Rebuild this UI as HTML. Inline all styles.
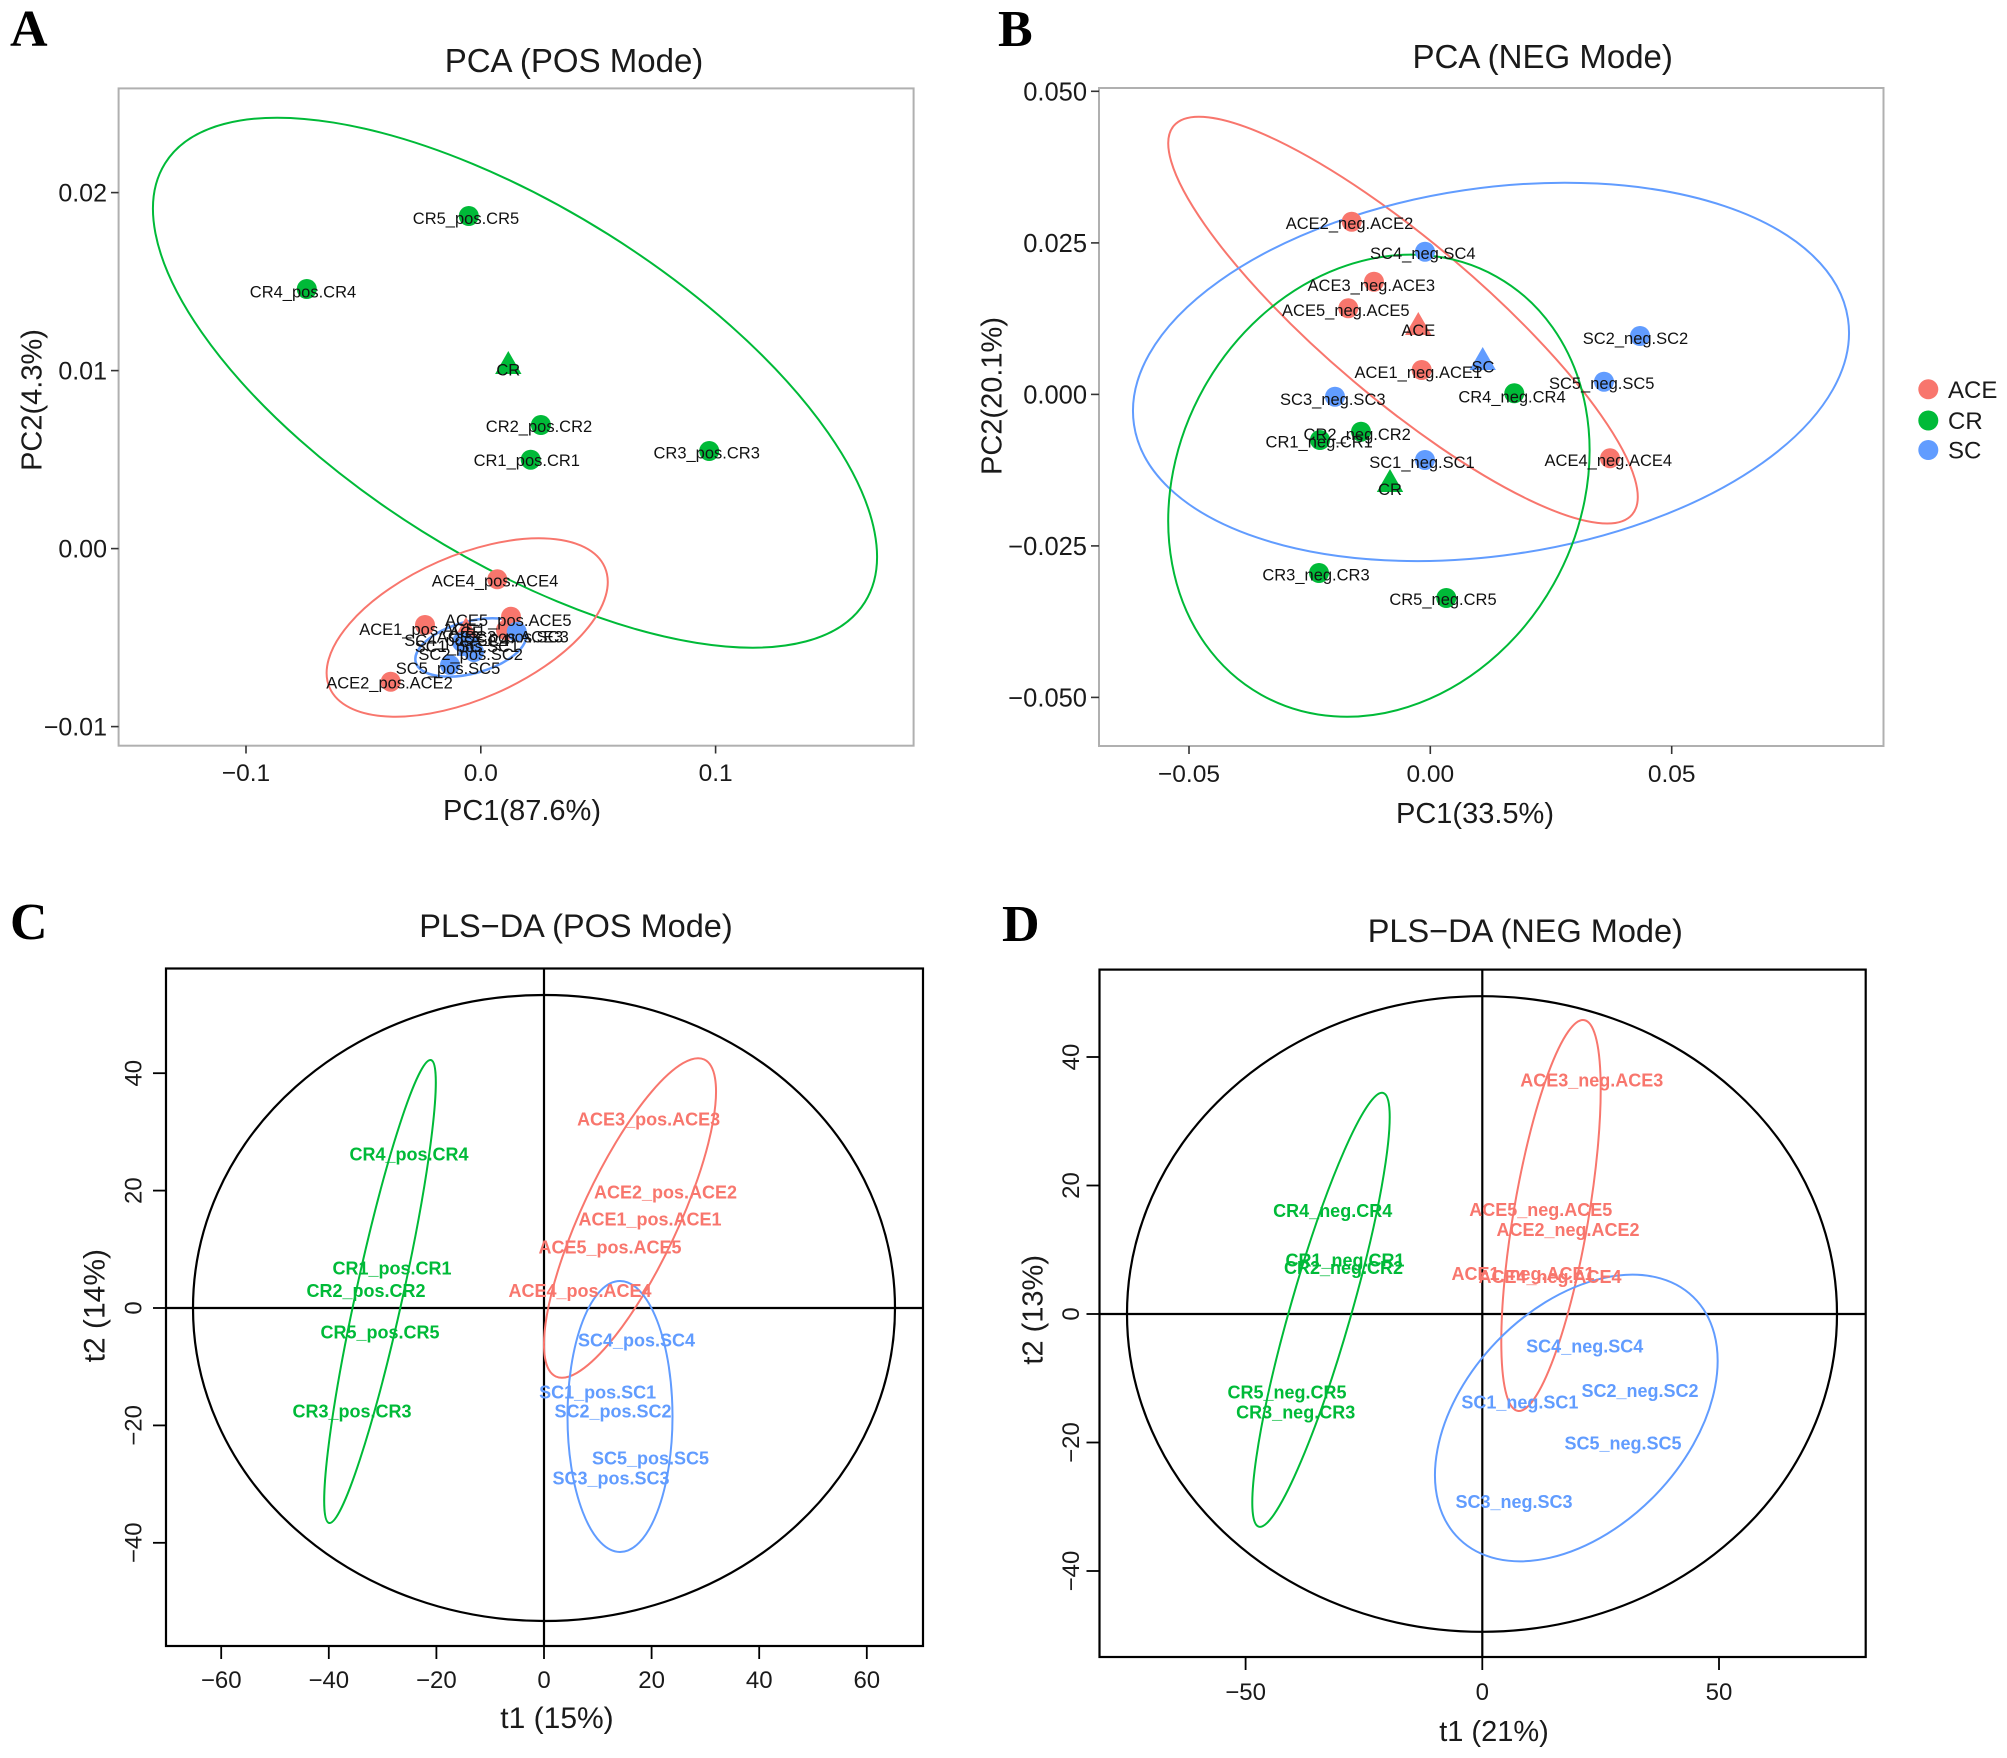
<!DOCTYPE html>
<html>
<head>
<meta charset="utf-8">
<style>
  html, body { margin: 0; padding: 0; background: #ffffff; }
  svg { display: block; }
  .sans { font-family: "Liberation Sans", Arial, sans-serif; }
  .serif { font-family: "Liberation Serif", "Times New Roman", serif; }
</style>
</head>
<body>
<svg width="2007" height="1758" viewBox="0 0 2007 1758" xmlns="http://www.w3.org/2000/svg" class="sans">
  <rect x="0" y="0" width="2007" height="1758" fill="#ffffff"/>

  <!-- Panel letters -->
  <g class="serif" font-weight="bold" font-size="52" fill="#000">
    <text x="10" y="46">A</text>
    <text x="998" y="46">B</text>
    <text x="10" y="939">C</text>
    <text x="1002" y="941">D</text>
  </g>

  <!-- ================= PANEL A ================= -->
  <text x="574" y="72" font-size="33" text-anchor="middle" fill="#1a1a1a">PCA (POS Mode)</text>
  <rect x="118.6" y="88.4" width="795" height="657.3" fill="none" stroke="#b0b0b0" stroke-width="2"/>
  <g stroke="#333" stroke-width="1.6">
    <line x1="111" y1="192.6" x2="118.6" y2="192.6"/>
    <line x1="111" y1="370.6" x2="118.6" y2="370.6"/>
    <line x1="111" y1="548.6" x2="118.6" y2="548.6"/>
    <line x1="111" y1="726.6" x2="118.6" y2="726.6"/>
    <line x1="246" y1="745.7" x2="246" y2="753.5"/>
    <line x1="480.8" y1="745.7" x2="480.8" y2="753.5"/>
    <line x1="715.6" y1="745.7" x2="715.6" y2="753.5"/>
  </g>
  <g font-size="25" fill="#1a1a1a" text-anchor="end">
    <text x="107" y="201.6">0.02</text>
    <text x="107" y="379.6">0.01</text>
    <text x="107" y="557.6">0.00</text>
    <text x="107" y="735.6">−0.01</text>
  </g>
  <g font-size="24.5" fill="#1a1a1a" text-anchor="middle">
    <text x="246" y="781">−0.1</text>
    <text x="480.8" y="781">0.0</text>
    <text x="715.6" y="781">0.1</text>
  </g>
  <text x="522" y="820" font-size="29" text-anchor="middle" fill="#1a1a1a">PC1(87.6%)</text>
  <text transform="translate(41.4,400) rotate(-90)" font-size="29" text-anchor="middle" fill="#1a1a1a">PC2(4.3%)</text>

  <g fill="none" stroke-width="2">
    <ellipse cx="0" cy="0" rx="413" ry="175.2" stroke="#00BA38" transform="translate(515,382.7) rotate(32.1)"/>
    <ellipse cx="0" cy="0" rx="150.2" ry="71.8" stroke="#F8766D" transform="translate(467.2,627.5) rotate(-23.65)"/>
    <ellipse cx="0" cy="0" rx="57" ry="26" stroke="#619CFF" stroke-width="2.5" transform="translate(470.8,647.5) rotate(-15)"/>
  </g>
  <g fill="#00BA38">
    <circle cx="468.8" cy="216" r="10"/>
    <circle cx="306.8" cy="289" r="10"/>
    <circle cx="540.9" cy="425" r="10"/>
    <circle cx="530.7" cy="459.7" r="10"/>
    <circle cx="709.2" cy="451" r="10"/>
    <polygon points="508.3,351 521.5,374 495.1,374"/>
  </g>
  <g fill="#F8766D">
    <circle cx="497.3" cy="579.3" r="10"/>
    <circle cx="511" cy="616.7" r="10"/>
    <circle cx="425" cy="625" r="10"/>
    <circle cx="390.7" cy="681.7" r="10"/>
    <circle cx="506" cy="630" r="10"/>
    <polygon points="466,617 479,640 453,640"/>
  </g>
  <g fill="#619CFF">
    <circle cx="516.7" cy="631.7" r="10"/>
    <circle cx="450" cy="665" r="10"/>
    <circle cx="462" cy="642" r="10"/>
    <circle cx="470" cy="646" r="10"/>
    <circle cx="474" cy="652" r="10"/>
    <polygon points="470,633 483,656 457,656"/>
  </g>
  <g font-size="16.5" fill="#111" text-anchor="middle">
    <text x="466" y="223.8">CR5_pos.CR5</text>
    <text x="303" y="297.5">CR4_pos.CR4</text>
    <text x="508.3" y="375.5">CR</text>
    <text x="539" y="431.8">CR2_pos.CR2</text>
    <text x="526.8" y="466">CR1_pos.CR1</text>
    <text x="706.7" y="458.4">CR3_pos.CR3</text>
    <text x="495" y="586.3">ACE4_pos.ACE4</text>
    <text x="508.3" y="625.8">ACE5_pos.ACE5</text>
    <text x="422.5" y="634.8">ACE1_pos.ACE1</text>
    <text x="466" y="637.8">ACE</text>
    <text x="500" y="642.5">ACE3_pos.ACE3</text>
    <text x="516.5" y="642.5">SC3_pos.SC3</text>
    <text x="456.5" y="645.8">SC4_pos.SC4</text>
    <text x="467" y="651.8">SC1_pos.SC1</text>
    <text x="470" y="651.8">SC</text>
    <text x="470.7" y="660.1">SC2_pos.SC2</text>
    <text x="448" y="674.1">SC5_pos.SC5</text>
    <text x="389.5" y="688.5">ACE2_pos.ACE2</text>
  </g>

  <!-- ================= PANEL B ================= -->
  <text x="1542.7" y="68" font-size="33" text-anchor="middle" fill="#1a1a1a">PCA (NEG Mode)</text>
  <rect x="1099" y="88" width="784.5" height="658" fill="none" stroke="#b0b0b0" stroke-width="2"/>
  <g stroke="#333" stroke-width="1.6">
    <line x1="1091" y1="91.3" x2="1099" y2="91.3"/>
    <line x1="1091" y1="242.9" x2="1099" y2="242.9"/>
    <line x1="1091" y1="394.4" x2="1099" y2="394.4"/>
    <line x1="1091" y1="545.9" x2="1099" y2="545.9"/>
    <line x1="1091" y1="697.4" x2="1099" y2="697.4"/>
    <line x1="1189" y1="746" x2="1189" y2="754"/>
    <line x1="1430.3" y1="746" x2="1430.3" y2="754"/>
    <line x1="1671.7" y1="746" x2="1671.7" y2="754"/>
  </g>
  <g font-size="25.5" fill="#1a1a1a" text-anchor="end">
    <text x="1087" y="100.3">0.050</text>
    <text x="1087" y="251.9">0.025</text>
    <text x="1087" y="403.4">0.000</text>
    <text x="1087" y="554.9">−0.025</text>
    <text x="1087" y="706.4">−0.050</text>
  </g>
  <g font-size="24.5" fill="#1a1a1a" text-anchor="middle">
    <text x="1189" y="782">−0.05</text>
    <text x="1430.3" y="782">0.00</text>
    <text x="1671.7" y="782">0.05</text>
  </g>
  <text x="1475" y="823" font-size="29" text-anchor="middle" fill="#1a1a1a">PC1(33.5%)</text>
  <text transform="translate(1001.4,396) rotate(-90)" font-size="29" text-anchor="middle" fill="#1a1a1a">PC2(20.1%)</text>

  <g fill="none" stroke-width="2">
    <ellipse cx="0" cy="0" rx="300.5" ry="78.6" stroke="#F8766D" transform="translate(1403,320.1) rotate(40.3)"/>
    <ellipse cx="0" cy="0" rx="360.9" ry="183.6" stroke="#619CFF" transform="translate(1491,371.9) rotate(-8.43)"/>
    <ellipse cx="0" cy="0" rx="239.9" ry="200.5" stroke="#00BA38" transform="translate(1378.9,485.7) rotate(-60.6)"/>
  </g>
  <g fill="#F8766D">
    <circle cx="1351.7" cy="221.7" r="10"/>
    <circle cx="1374" cy="281.7" r="10"/>
    <circle cx="1348.3" cy="308.3" r="10"/>
    <circle cx="1421.7" cy="370" r="10"/>
    <circle cx="1610" cy="458.3" r="10"/>
    <polygon points="1418.3,312 1431.5,335 1405.1,335"/>
  </g>
  <g fill="#619CFF">
    <circle cx="1425" cy="251.7" r="10"/>
    <circle cx="1640" cy="336" r="10"/>
    <circle cx="1604" cy="381.7" r="10"/>
    <circle cx="1335" cy="396.7" r="10"/>
    <circle cx="1425" cy="460" r="10"/>
    <polygon points="1482.7,347 1495.9,370 1469.5,370"/>
  </g>
  <g fill="#00BA38">
    <circle cx="1514.3" cy="393.3" r="10"/>
    <circle cx="1361" cy="431.7" r="10"/>
    <circle cx="1320" cy="440" r="10"/>
    <circle cx="1319" cy="573" r="10"/>
    <circle cx="1446.3" cy="598" r="10"/>
    <polygon points="1390,469 1403.2,492 1376.8,492"/>
  </g>
  <g font-size="16.5" fill="#111" text-anchor="middle">
    <text x="1349.5" y="229.1">ACE2_neg.ACE2</text>
    <text x="1422.8" y="259.1">SC4_neg.SC4</text>
    <text x="1371.3" y="290.8">ACE3_neg.ACE3</text>
    <text x="1345.8" y="315.8">ACE5_neg.ACE5</text>
    <text x="1418.3" y="335.8">ACE</text>
    <text x="1635.5" y="344.1">SC2_neg.SC2</text>
    <text x="1483" y="372.5">SC</text>
    <text x="1418.3" y="378.1">ACE1_neg.ACE1</text>
    <text x="1601.7" y="389.1">SC5_neg.SC5</text>
    <text x="1512" y="402.5">CR4_neg.CR4</text>
    <text x="1332.8" y="404.8">SC3_neg.SC3</text>
    <text x="1357.2" y="440.1">CR2_neg.CR2</text>
    <text x="1319.2" y="447.5">CR1_neg.CR1</text>
    <text x="1608.3" y="465.8">ACE4_neg.ACE4</text>
    <text x="1422" y="468.1">SC1_neg.SC1</text>
    <text x="1390" y="495.1">CR</text>
    <text x="1316" y="580.4">CR3_neg.CR3</text>
    <text x="1443" y="604.8">CR5_neg.CR5</text>
  </g>
  <circle cx="1928.3" cy="389.3" r="10" fill="#F8766D"/>
  <circle cx="1928.3" cy="420.5" r="10" fill="#00BA38"/>
  <circle cx="1928.3" cy="450" r="10" fill="#619CFF"/>
  <g font-size="24" fill="#1a1a1a">
    <text x="1948" y="397.9">ACE</text>
    <text x="1948" y="429.1">CR</text>
    <text x="1948" y="458.6">SC</text>
  </g>

  <!-- ================= PANEL C ================= -->
  <text x="576" y="937" font-size="32.5" text-anchor="middle" fill="#1a1a1a">PLS−DA (POS Mode)</text>
  <rect x="166" y="968.5" width="757" height="677.5" fill="none" stroke="#000" stroke-width="2.2"/>
  <line x1="544" y1="968.5" x2="544" y2="1646" stroke="#000" stroke-width="2.2"/>
  <line x1="166" y1="1308" x2="923" y2="1308" stroke="#000" stroke-width="2.2"/>
  <ellipse cx="544" cy="1308" rx="351" ry="313" fill="none" stroke="#000" stroke-width="2.2"/>
  <g stroke="#000" stroke-width="1.8">
    <line x1="221.2" y1="1646" x2="221.2" y2="1659"/>
    <line x1="328.8" y1="1646" x2="328.8" y2="1659"/>
    <line x1="436.4" y1="1646" x2="436.4" y2="1659"/>
    <line x1="544" y1="1646" x2="544" y2="1659"/>
    <line x1="651.6" y1="1646" x2="651.6" y2="1659"/>
    <line x1="759.2" y1="1646" x2="759.2" y2="1659"/>
    <line x1="866.8" y1="1646" x2="866.8" y2="1659"/>
    <line x1="153" y1="1073.2" x2="166" y2="1073.2"/>
    <line x1="153" y1="1190.6" x2="166" y2="1190.6"/>
    <line x1="153" y1="1308" x2="166" y2="1308"/>
    <line x1="153" y1="1425.4" x2="166" y2="1425.4"/>
    <line x1="153" y1="1542.8" x2="166" y2="1542.8"/>
  </g>
  <g font-size="24" fill="#1a1a1a" text-anchor="middle">
    <text x="221.2" y="1688">−60</text>
    <text x="328.8" y="1688">−40</text>
    <text x="436.4" y="1688">−20</text>
    <text x="544" y="1688">0</text>
    <text x="651.6" y="1688">20</text>
    <text x="759.2" y="1688">40</text>
    <text x="866.8" y="1688">60</text>
    <text transform="translate(141.6,1073.2) rotate(-90)">40</text>
    <text transform="translate(141.6,1190.6) rotate(-90)">20</text>
    <text transform="translate(141.6,1308) rotate(-90)">0</text>
    <text transform="translate(141.6,1425.4) rotate(-90)">−20</text>
    <text transform="translate(141.6,1542.8) rotate(-90)">−40</text>
  </g>
  <text x="557" y="1728" font-size="30" text-anchor="middle" fill="#1a1a1a">t1 (15%)</text>
  <text transform="translate(104.7,1305.7) rotate(-90)" font-size="30" text-anchor="middle" fill="#1a1a1a">t2 (14%)</text>
  <g fill="none" stroke-width="2">
    <ellipse cx="0" cy="0" rx="237" ry="23.4" stroke="#00BA38" transform="translate(380,1291.5) rotate(-77.6)"/>
    <ellipse cx="0" cy="0" rx="175" ry="48" stroke="#F8766D" transform="translate(630,1218) rotate(-64.9)"/>
    <ellipse cx="620" cy="1416.5" rx="52.5" ry="135.5" stroke="#619CFF"/>
  </g>
  <g font-size="18" font-weight="bold" text-anchor="middle">
    <g fill="#00BA38">
      <text x="409" y="1160.5">CR4_pos.CR4</text>
      <text x="392" y="1274.5">CR1_pos.CR1</text>
      <text x="366" y="1297">CR2_pos.CR2</text>
      <text x="380" y="1338.5">CR5_pos.CR5</text>
      <text x="352" y="1417.5">CR3_pos.CR3</text>
    </g>
    <g fill="#F8766D">
      <text x="648.6" y="1125.5">ACE3_pos.ACE3</text>
      <text x="665.5" y="1198.5">ACE2_pos.ACE2</text>
      <text x="650" y="1225.5">ACE1_pos.ACE1</text>
      <text x="610" y="1253.5">ACE5_pos.ACE5</text>
      <text x="580" y="1297">ACE4_pos.ACE4</text>
    </g>
    <g fill="#619CFF">
      <text x="636.5" y="1346.5">SC4_pos.SC4</text>
      <text x="597.6" y="1398.5">SC1_pos.SC1</text>
      <text x="613" y="1417.5">SC2_pos.SC2</text>
      <text x="650.5" y="1464.5">SC5_pos.SC5</text>
      <text x="611" y="1484.5">SC3_pos.SC3</text>
    </g>
  </g>

  <!-- ================= PANEL D ================= -->
  <text x="1525.3" y="942" font-size="32.5" text-anchor="middle" fill="#1a1a1a">PLS−DA (NEG Mode)</text>
  <rect x="1099.5" y="969.6" width="766.2" height="687.4" fill="none" stroke="#000" stroke-width="2.2"/>
  <line x1="1482.3" y1="969.6" x2="1482.3" y2="1657" stroke="#000" stroke-width="2.2"/>
  <line x1="1099.5" y1="1314" x2="1865.7" y2="1314" stroke="#000" stroke-width="2.2"/>
  <ellipse cx="1482" cy="1314" rx="355" ry="317.8" fill="none" stroke="#000" stroke-width="2.2"/>
  <g stroke="#000" stroke-width="1.8">
    <line x1="1245.6" y1="1657" x2="1245.6" y2="1670"/>
    <line x1="1482.3" y1="1657" x2="1482.3" y2="1670"/>
    <line x1="1719" y1="1657" x2="1719" y2="1670"/>
    <line x1="1086.5" y1="1057" x2="1099.5" y2="1057"/>
    <line x1="1086.5" y1="1185.5" x2="1099.5" y2="1185.5"/>
    <line x1="1086.5" y1="1314" x2="1099.5" y2="1314"/>
    <line x1="1086.5" y1="1442.5" x2="1099.5" y2="1442.5"/>
    <line x1="1086.5" y1="1571" x2="1099.5" y2="1571"/>
  </g>
  <g font-size="24" fill="#1a1a1a" text-anchor="middle">
    <text x="1245.6" y="1700">−50</text>
    <text x="1482.3" y="1700">0</text>
    <text x="1719" y="1700">50</text>
    <text transform="translate(1079.2,1057) rotate(-90)">40</text>
    <text transform="translate(1079.2,1185.5) rotate(-90)">20</text>
    <text transform="translate(1079.2,1314) rotate(-90)">0</text>
    <text transform="translate(1079.2,1442.5) rotate(-90)">−20</text>
    <text transform="translate(1079.2,1571) rotate(-90)">−40</text>
  </g>
  <text x="1494" y="1741" font-size="29" text-anchor="middle" fill="#1a1a1a">t1 (21%)</text>
  <text transform="translate(1042.5,1309.8) rotate(-90)" font-size="29" text-anchor="middle" fill="#1a1a1a">t2 (13%)</text>
  <g fill="none" stroke-width="2">
    <ellipse cx="0" cy="0" rx="225.6" ry="30.4" stroke="#00BA38" transform="translate(1321,1309.8) rotate(-74)"/>
    <ellipse cx="0" cy="0" rx="198.2" ry="37.5" stroke="#F8766D" transform="translate(1551,1215.5) rotate(-80.35)"/>
    <ellipse cx="0" cy="0" rx="168.3" ry="110.4" stroke="#619CFF" transform="translate(1576.3,1418) rotate(-46)"/>
  </g>
  <g font-size="18" font-weight="bold" text-anchor="middle">
    <g fill="#00BA38">
      <text x="1332.7" y="1217.2">CR4_neg.CR4</text>
      <text x="1345" y="1266.5">CR1_neg.CR1</text>
      <text x="1343.5" y="1273.8">CR2_neg.CR2</text>
      <text x="1287" y="1398.5">CR5_neg.CR5</text>
      <text x="1295.7" y="1418.5">CR3_neg.CR3</text>
    </g>
    <g fill="#F8766D">
      <text x="1591.8" y="1086.5">ACE3_neg.ACE3</text>
      <text x="1540.8" y="1215.8">ACE5_neg.ACE5</text>
      <text x="1568" y="1235.8">ACE2_neg.ACE2</text>
      <text x="1523" y="1279.8">ACE1_neg.ACE1</text>
      <text x="1550" y="1283.2">ACE4_neg.ACE4</text>
    </g>
    <g fill="#619CFF">
      <text x="1584.7" y="1352.5">SC4_neg.SC4</text>
      <text x="1640" y="1397.2">SC2_neg.SC2</text>
      <text x="1519.9" y="1408.5">SC1_neg.SC1</text>
      <text x="1623" y="1449.3">SC5_neg.SC5</text>
      <text x="1514" y="1508.1">SC3_neg.SC3</text>
    </g>
  </g>
</svg>
</body>
</html>
